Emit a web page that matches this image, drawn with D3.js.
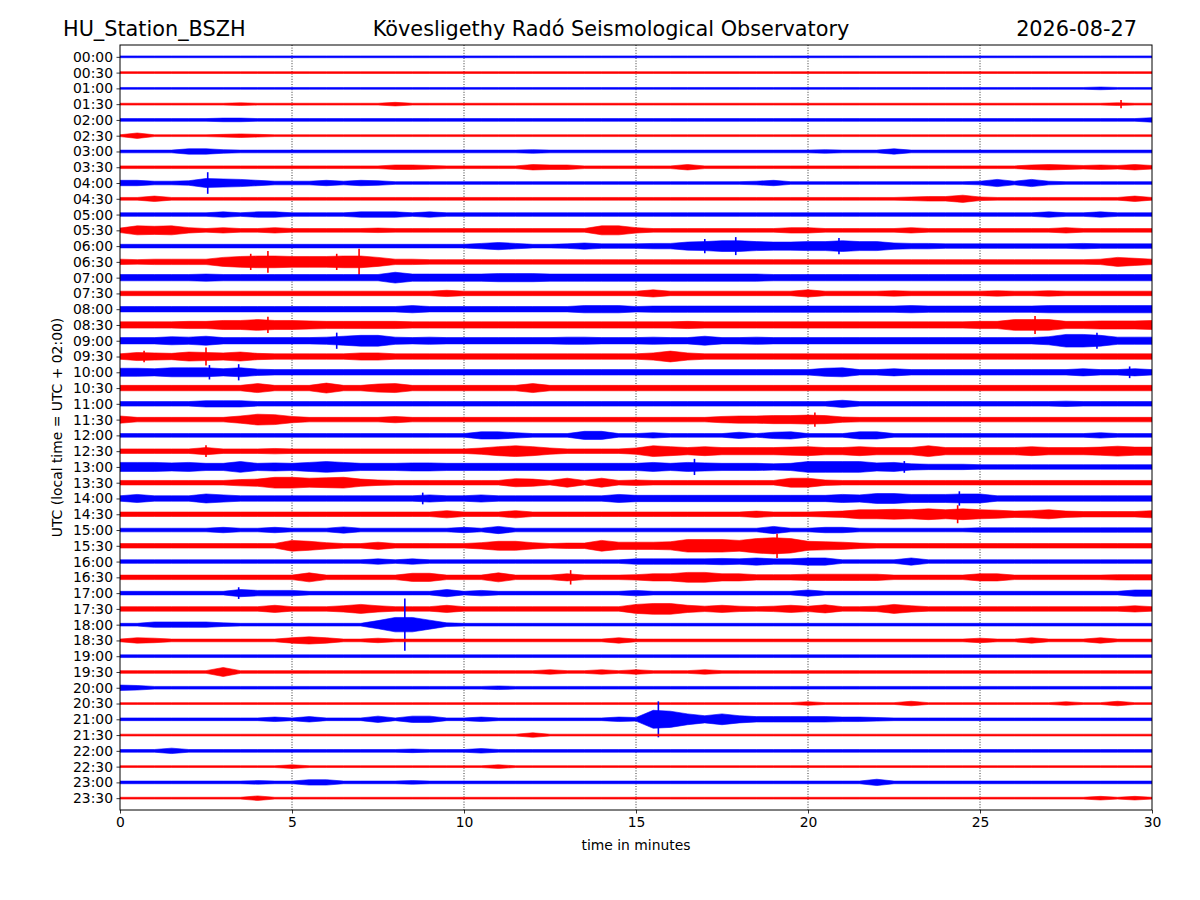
<!DOCTYPE html>
<html>
<head>
<meta charset="utf-8">
<script src="https://cdn.jsdelivr.net/npm/d3@7"></script>
<style>
  body { margin: 0; background: #fff; }
  svg text { font-family: "DejaVu Sans", sans-serif; fill: #000; }
</style>
</head>
<body>
<div id="chart"></div>
<script>
// row labels (start of each 30 minute line, UTC)
const rowLabels = [
  "00:00", "00:30", "01:00", "01:30", "02:00", "02:30", "03:00", "03:30",
  "04:00", "04:30", "05:00", "05:30", "06:00", "06:30", "07:00", "07:30",
  "08:00", "08:30", "09:00", "09:30", "10:00", "10:30", "11:00", "11:30",
  "12:00", "12:30", "13:00", "13:30", "14:00", "14:30", "15:00", "15:30",
  "16:00", "16:30", "17:00", "17:30", "18:00", "18:30", "19:00", "19:30",
  "20:00", "20:30", "21:00", "21:30", "22:00", "22:30", "23:00", "23:30"
];
const traceColors = ["#0000ff", "#ff0000"];
const xTicks = [0, 5, 10, 15, 20, 25, 30];
const gridMinutes = [5, 10, 15, 20, 25];
const sampleStep = 0.5; // minutes between envelope samples

// envelope half-amplitude, one char per 0.5 min (0..30),
// base-36 digits; spaces only group 5 minute blocks
const envelopes = [
  "2222222222 2222222222 2222222222 2222222222 2222222222 2222222222 2",
  "2222222222 2222222222 2222222222 2222222222 2222222222 2222222222 2",
  "2222222222 2222222222 2222222222 2222222222 2222222222 2222222322 2",
  "2222222322 2222224222 2222222222 2222222222 2222222222 2222222232 2",
  "3333334433 3333333333 3333333333 3333333333 3333333333 3333333333 5",
  "2622223432 2222222222 2222222222 2222222222 2222222222 2222222222 2",
  "3333664333 3333333333 3333433333 3333333333 3433363333 3333333333 3",
  "3333333333 3333335543 3333655333 3336333333 3333333333 3335654546 4",
  "66445a9864 4464653333 3333333333 3333333463 3333333333 4848433333 3",
  "3363333333 3333333333 3333333333 3333333333 3333334558 4333333336 3",
  "4444446466 4444666464 4444444444 4444444444 4444444444 4444644644 4",
  "5a9a646446 4444454444 44444444aa 6444444446 6444446444 4444464444 4",
  "4444444444 4444444444 4686445755 5669acca99 aacaa76655 5555556555 5",
  "656666acdd cccdda6655 5555555555 5555555555 5555555555 55555556a8 6",
  "7777787777 777777c888 8899988888 8888888877 7777777777 7777777777 7",
  "5555555555 5555555557 5555555555 5855555555 8555565555 5655655555 5",
  "6666666666 6666666866 6666666888 6777777777 7777778777 7777888888 8",
  "777788aaca a988888777 7777777777 7778777777 7777777777 88ccc88999 a",
  "77798a7777 778acc8787 7777778877 7877a77877 7777777777 77779eec88 8",
  "6987a98a76 6666886666 6666666666 68c8666666 6666666666 6666666666 6",
  "998aaa8a76 6666666666 6666666666 6666666666 69a6686666 6666668668 6",
  "66666666a6 66b669a666 6666a66666 6666666666 6666666666 6666666666 6",
  "5555577755 5555555555 5555555555 5555555555 5585555555 5555565555 5",
  "85555558cb 7555557555 5555555555 5555578899 a965555555 5555555555 5",
  "4444444444 4444444444 4886444994 4644447478 4448844444 4444444644 4",
  "5555585556 5555555555 57aca75555 7ca8a88889 a88a888c88 888a8889b9 9",
  "aaa9a88c89 8aca888998 8888888888 8a8a988878 cccc9a7666 5555555555 5",
  "555555578c cabc865555 555985a5a5 655555555a a655555555 5555555555 5",
  "69666a8666 6666666686 6866666669 7777777777 7798bb999a a666666666 6",
  "5555555555 5555555558 5558555555 5555555755 567aabacac a978a76666 8",
  "4444446446 4447444444 6484444444 4444444484 4664444444 5555555555 5",
  "5555555555 ca75585555 57aa7566c8 889eeecgig a986555555 5555555555 5",
  "4444444444 4444464644 4444444444 6666676866 8844448444 4444444444 4",
  "5555555555 5a55555995 55a5558555 688bb88666 7777755555 8855555566 6",
  "4444444866 6444444448 4644444444 6444444444 7444444444 4444444447 7",
  "5555555558 5557a75558 5555555555 acc8686568 69556a7555 5555555557 5",
  "3366664333 333339gga4 3333333333 3333333333 3333333333 3333333333 3",
  "3653333333 6863353333 3333333336 3333333333 3333333333 5336333633 3",
  "3333333333 3333333333 3333333333 3333333333 3333333333 3333333333 3",
  "333333a333 3333333333 3333353353 5333533333 3333333333 3333333333 3",
  "6533333333 3333333333 3343333333 3333333333 3333333333 3333333333 3",
  "2222222222 2222222222 2222222222 2222222222 4222225222 2222242252 2",
  "3333333335 3633373773 3533333335 4kic8c8666 6655433333 3333333333 3",
  "2222222222 2222222222 2222522222 2222222222 2222222222 2222222222 2",
  "3336333333 3333333433 3533333333 3333333333 3333333333 3333333333 3",
  "2222222222 4222222222 2242222222 2222222222 2222222222 2222222222 2",
  "3333333343 3663333433 3333333333 3333333333 3333733333 3333333333 3",
  "2222222252 2222222222 2222222222 2222222222 2222222222 2222222424 2"
];

// single sharp peaks: line, minute, half-amplitude (same units as envelopes)
const spikeRows    = ["01:30", "04:00", "06:00", "06:00", "06:00", "06:30", "06:30", "06:30", "06:30",
                      "08:30", "08:30", "09:00", "09:00", "09:30", "09:30", "10:00", "10:00", "10:00",
                      "11:30", "12:30", "13:00", "13:00", "14:00", "14:00", "14:30", "15:30", "16:30",
                      "17:00", "18:00", "21:00"];
const spikeMinutes = [29.1, 2.55, 17.0, 17.9, 20.9, 3.8, 4.3, 6.3, 6.95,
                      4.3, 26.6, 6.3, 28.4, 0.7, 2.5, 2.6, 3.45, 29.35,
                      20.2, 2.5, 16.7, 22.8, 8.8, 24.4, 24.35, 19.1, 13.1,
                      3.45, 8.28, 15.65];
const spikeAmps    = [9, 24, 16, 20, 18, 18, 24, 18, 29,
                      18, 20, 18, 18, 13, 20, 16, 18, 13,
                      16, 13, 18, 13, 13, 16, 20, 27, 16,
                      13, 58, 40];

const width = 1200, height = 900;
const margin = {top: 45, right: 48, bottom: 90, left: 120};
const plotW = width - margin.left - margin.right;
const plotH = height - margin.top - margin.bottom;

const svg = d3.select("#chart").append("svg")
    .attr("width", width)
    .attr("height", height);

svg.append("rect")
    .attr("width", width)
    .attr("height", height)
    .attr("fill", "#fff");

const x = d3.scaleLinear().domain([0, 30]).range([0, plotW]);
const y = d3.scalePoint().domain(rowLabels).range([0, plotH]).padding(0.75);
const amp = d3.scaleLinear().domain([0, 10]).range([0, 4.5]);

const g = svg.append("g")
    .attr("transform", `translate(${margin.left},${margin.top})`);

svg.append("defs").append("clipPath")
    .attr("id", "plotClip")
    .append("rect")
    .attr("width", plotW)
    .attr("height", plotH);

// dotted minute grid
g.selectAll(".grid")
    .data(gridMinutes)
    .enter().append("line")
    .attr("class", "grid")
    .attr("x1", d => x(d)).attr("x2", d => x(d))
    .attr("y1", 0).attr("y2", plotH)
    .attr("stroke", "#000")
    .attr("stroke-width", 0.8)
    .attr("stroke-dasharray", "1,1.6");

const rows = envelopes.map((s, i) => ({
    label: rowLabels[i],
    color: traceColors[i % 2],
    values: s.replace(/ /g, "").split("").map((c, j) => ({t: j * sampleStep, v: parseInt(c, 36)}))
}));

const spikes = spikeRows.map((r, i) => ({
    label: r,
    color: traceColors[rowLabels.indexOf(r) % 2],
    t: spikeMinutes[i],
    v: spikeAmps[i]
}));

const traces = g.append("g").attr("clip-path", "url(#plotClip)");

const rowG = traces.selectAll(".trace")
    .data(rows)
    .enter().append("g")
    .attr("class", "trace");

rowG.append("path")
    .attr("fill", d => d.color)
    .attr("stroke", d => d.color)
    .attr("stroke-width", 0.6)
    .attr("d", d => d3.area()
        .x(p => x(p.t))
        .y0(p => y(d.label) - amp(p.v))
        .y1(p => y(d.label) + amp(p.v))(d.values));

rowG.each(function (d) {
    d3.select(this).selectAll("line")
        .data(spikes.filter(s => s.label === d.label))
        .enter().append("line")
        .attr("x1", s => x(s.t)).attr("x2", s => x(s.t))
        .attr("y1", s => y(s.label) - amp(s.v))
        .attr("y2", s => y(s.label) + amp(s.v))
        .attr("stroke", s => s.color)
        .attr("stroke-width", 1.6);
});

// axes
const yAxis = d3.axisLeft(y).tickSize(3.5).tickPadding(3.5);
const xAxis = d3.axisBottom(x).tickValues(xTicks).tickFormat(d3.format("d")).tickSize(3.5).tickPadding(3.5);

const gy = g.append("g").call(yAxis);
const gx = g.append("g").attr("transform", `translate(0,${plotH})`).call(xAxis);

[gx, gy].forEach(a => {
    a.select(".domain").remove();
    a.selectAll("line").attr("stroke", "#000").attr("stroke-width", 0.8);
    a.selectAll("text").style("font-size", "13.9px").attr("fill", "#000");
});

g.append("rect")
    .attr("width", plotW)
    .attr("height", plotH)
    .attr("fill", "none")
    .attr("stroke", "#000")
    .attr("stroke-width", 1);

// labels
svg.append("text")
    .attr("x", margin.left + plotW / 2)
    .attr("y", 850)
    .attr("text-anchor", "middle")
    .style("font-size", "13.9px")
    .text("time in minutes");

svg.append("text")
    .attr("transform", `translate(62,${margin.top + plotH / 2}) rotate(-90)`)
    .attr("text-anchor", "middle")
    .style("font-size", "13.9px")
    .text("UTC (local time = UTC + 02:00)");

svg.append("text")
    .attr("x", 63).attr("y", 35.5)
    .style("font-size", "20.8px")
    .text("HU_Station_BSZH");

svg.append("text")
    .attr("x", 611).attr("y", 35.5)
    .attr("text-anchor", "middle")
    .style("font-size", "20.8px")
    .text("Kövesligethy Radó Seismological Observatory");

svg.append("text")
    .attr("x", 1137).attr("y", 35.5)
    .attr("text-anchor", "end")
    .style("font-size", "20.8px")
    .text("2026-08-27");
</script>
</body>
</html>
